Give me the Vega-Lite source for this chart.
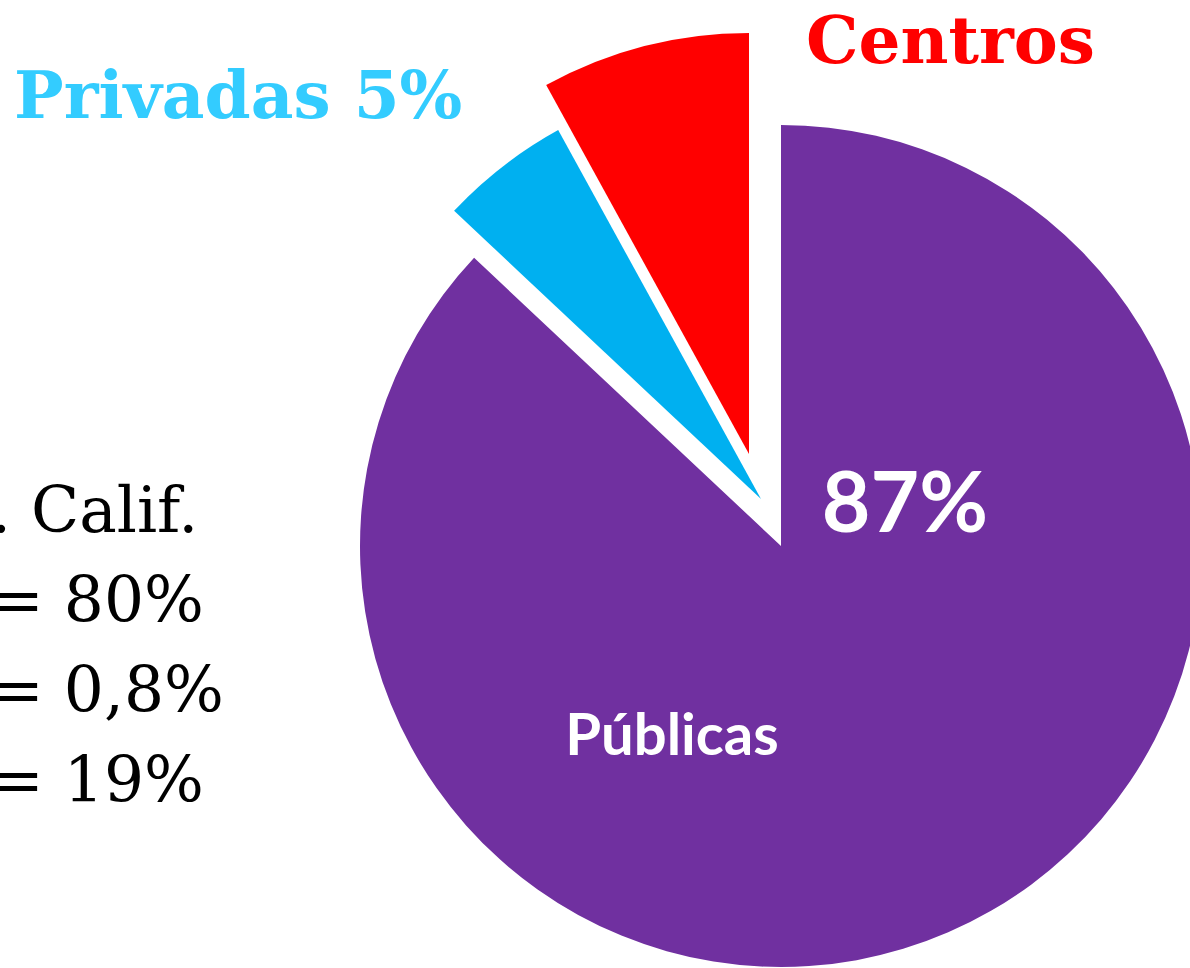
{
  "$schema": "https://vega.github.io/schema/vega-lite/v6.json",
  "width": 1190,
  "height": 968,
  "padding": 0,
  "autosize": {"type": "none"},
  "background": "white",
  "config": {"view": {"stroke": null}},
  "datasets": {
    "sectores": [
      {"sector": "Públicas", "porcentaje": 87},
      {"sector": "Privadas", "porcentaje": 5},
      {"sector": "Centros", "porcentaje": 8}
    ],
    "notas": [
      {"texto": ". Calif.\n= 80%\n= 0,8%\n= 19%"}
    ]
  },
  "layer": [
    {
      "data": {"name": "sectores"},
      "transform": [
        {"stack": "porcentaje", "groupby": [], "as": ["inicio", "fin"]},
        {"filter": "datum.sector === 'Públicas'"}
      ],
      "mark": {"type": "arc", "x": 781, "y": 546, "radius": 421},
      "encoding": {
        "theta": {"field": "inicio", "type": "quantitative", "scale": {"domain": [0, 100]}},
        "theta2": {"field": "fin"},
        "color": {"field": "sector", "type": "nominal", "legend": null,
          "scale": {"domain": ["Públicas", "Privadas", "Centros"], "range": ["#7030A0", "#00B0F0", "#FF0000"]}}
      }
    },
    {
      "data": {"name": "sectores"},
      "transform": [
        {"stack": "porcentaje", "groupby": [], "as": ["inicio", "fin"]},
        {"filter": "datum.sector === 'Privadas'"}
      ],
      "mark": {"type": "arc", "x": 761, "y": 499, "radius": 421},
      "encoding": {
        "theta": {"field": "inicio", "type": "quantitative", "scale": {"domain": [0, 100]}},
        "theta2": {"field": "fin"},
        "color": {"field": "sector", "type": "nominal", "legend": null}
      }
    },
    {
      "data": {"name": "sectores"},
      "transform": [
        {"stack": "porcentaje", "groupby": [], "as": ["inicio", "fin"]},
        {"filter": "datum.sector === 'Centros'"}
      ],
      "mark": {"type": "arc", "x": 749, "y": 454, "radius": 421},
      "encoding": {
        "theta": {"field": "inicio", "type": "quantitative", "scale": {"domain": [0, 100]}},
        "theta2": {"field": "fin"},
        "color": {"field": "sector", "type": "nominal", "legend": null}
      }
    },
    {
      "data": {"values": [{"texto": "Centros"}]},
      "mark": {"type": "text", "x": 806, "y": 63, "align": "left", "baseline": "alphabetic",
        "font": "DejaVu Serif", "fontWeight": "bold", "fontSize": 66, "color": "#FF0000"},
      "encoding": {"text": {"field": "texto"}}
    },
    {
      "data": {"values": [{"texto": "Privadas 5%"}]},
      "mark": {"type": "text", "x": 14, "y": 118, "align": "left", "baseline": "alphabetic",
        "font": "DejaVu Serif", "fontWeight": "bold", "fontSize": 66, "color": "#33CCFF"},
      "encoding": {"text": {"field": "texto"}}
    },
    {
      "data": {"name": "notas"},
      "mark": {"type": "text", "x": -9, "y": 532, "align": "left", "baseline": "alphabetic", "lineBreak": "\n", "lineHeight": 90,
        "font": "DejaVu Serif", "fontSize": 63, "color": "#000000"},
      "encoding": {"text": {"field": "texto"}}
    },
    {
      "data": {"values": [{"texto": "87%"}]},
      "mark": {"type": "text", "x": 905, "y": 532, "align": "center", "baseline": "alphabetic",
        "font": "Lato", "fontWeight": "bold", "fontSize": 84, "color": "#FFFFFF"},
      "encoding": {"text": {"field": "texto"}}
    },
    {
      "data": {"values": [{"texto": "Públicas"}]},
      "mark": {"type": "text", "x": 672, "y": 755, "align": "center", "baseline": "alphabetic",
        "font": "Lato", "fontWeight": "bold", "fontSize": 58, "color": "#FFFFFF"},
      "encoding": {"text": {"field": "texto"}}
    }
  ]
}
